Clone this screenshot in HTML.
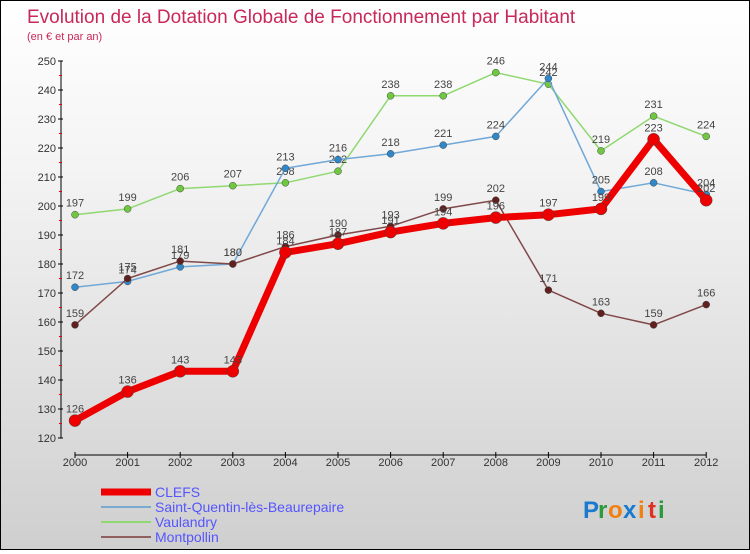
<!DOCTYPE html>
<html><head><meta charset="utf-8"><style>
body{margin:0}
#c{width:748px;height:548px;border:1px solid #000;background:linear-gradient(#fff,#f4f4f4 30%,#cfcfcf);position:relative;font-family:"Liberation Sans",sans-serif}
</style></head><body>
<div id="c">
<svg id="s" width="748" height="548"></svg>
</div>
<script>
const years=["2000","2001","2002","2003","2004","2005","2006","2007","2008","2009","2010","2011","2012"];
const clefs=[126,136,143,143,184,187,191,194,196,197,199,223,202];
const stq=[172,174,179,180,213,216,218,221,224,244,205,208,204];
const vaul=[197,199,206,207,208,212,238,238,246,242,219,231,224];
const mont=[159,175,181,180,186,190,193,199,202,171,163,159,166];
const yTicks=[120,130,140,150,160,170,180,190,200,210,220,230,240,250];
const s=document.getElementById('s');
const NS='http://www.w3.org/2000/svg';
function X(i){return 74+i*52.6;}
function Y(v){return 437-(v-120)*377/130;}
function el(t,a,txt){const e=document.createElementNS(NS,t);for(const k in a)e.setAttribute(k,a[k]);if(txt!=null)e.textContent=txt;s.appendChild(e);return e;}
let e;
e=el('text',{x:26,y:22,fill:'#c8285a','font-size':19},'Evolution de la Dotation Globale de Fonctionnement par Habitant');

e=el('text',{x:26,y:39,fill:'#c8285a','font-size':11},'(en € et par an)');

e=el('line',{x1:60,y1:Y(250),x2:60,y2:Y(120),stroke:'#000'});

yTicks.forEach((v,i)=>{
 e=el('line',{x1:57,x2:62,y1:Y(v),y2:Y(v),stroke:'#000'});
 
 if(i<yTicks.length-1){e=el('line',{x1:58,x2:61,y1:Y(v+5),y2:Y(v+5),stroke:'#e00'});
 }
 e=el('text',{x:55,y:Y(v)+4,'text-anchor':'end','font-size':11,fill:'#333'},v);
 
});
e=el('line',{x1:X(0),y1:454,x2:X(12),y2:454,stroke:'#000'});

years.forEach((y,i)=>{
 e=el('line',{x1:X(i),x2:X(i),y1:451,y2:457,stroke:'#000'});
 
 e=el('text',{x:X(i),y:465,'text-anchor':'middle','font-size':11,fill:'#333'},y);
 
});
function series(data,color,dot,w,r,name){
 e=el('polyline',{points:data.map((v,i)=>X(i)+','+Y(v)).join(' '),fill:'none',stroke:color,'stroke-width':w,'stroke-linejoin':'round'});
 
 data.forEach((v,i)=>{
  e=el('circle',{cx:X(i),cy:Y(v),r:r,fill:dot,stroke:'#444','stroke-width':0.5});
  
  e=el('text',{x:X(i),y:Y(v)-8,'text-anchor':'middle','font-size':11,fill:'#444'},v);
  
 });
}
series(vaul,'#90d870','#70c840',1.5,3.5,'vaulandry');
series(stq,'#70a8d8','#3088c8',1.5,3.5,'saint-quentin');
series(mont,'#804848','#602020',1.5,3.5,'montpollin');
series(clefs,'#ee0000','#ee0000',7,6,'clefs');
const leg=[['CLEFS','#ee0000',7],['Saint-Quentin-lès-Beaurepaire','#7aaad0',2],['Vaulandry','#90d870',2],['Montpollin','#906060',2]];
leg.forEach((l,i)=>{
 const y=491+i*15;
 e=el('line',{x1:100,x2:150,y1:y,y2:y,stroke:l[1],'stroke-width':l[2]});
 
 e=el('text',{x:154,y:y+5,'font-size':14,fill:'#5555ff'},l[0]);
 
});
const lg=[['P','#1a7ad0'],['r','#2a9a3a'],['o','#f08010'],['x','#1a7ad0'],['i','#f08010'],['t','#e03020'],['i','#2a9a3a']];
let lx=582;
lg.forEach(c=>{e=el('text',{x:lx,y:517,'font-size':24,'font-weight':'bold',fill:c[1]},c[0]);
 
 lx+= (c[0]==='i'||c[0]==='t'||c[0]==='r')?10:15;});
</script>
</body></html>
